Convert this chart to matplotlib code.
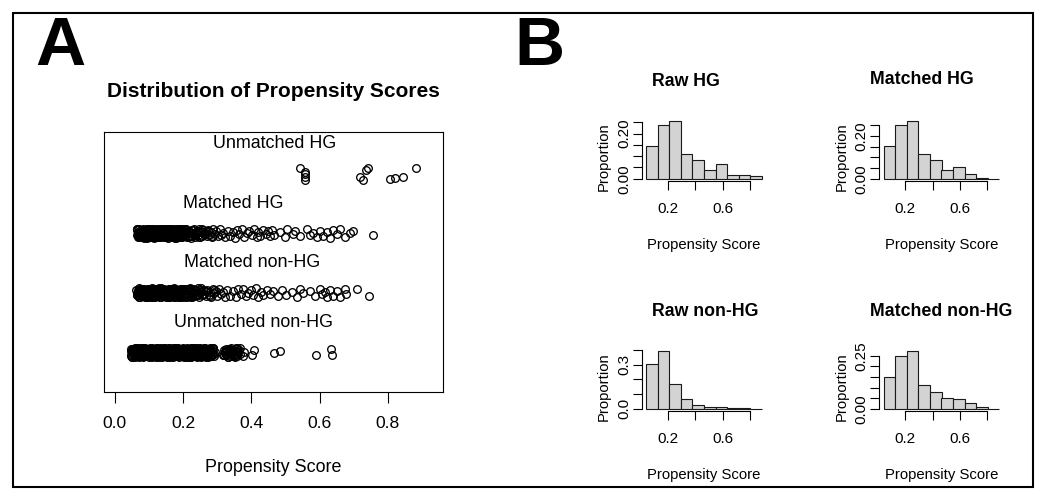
import numpy as np
import matplotlib.pyplot as plt
from matplotlib.patches import Rectangle

plt.rcParams['font.family'] = ['Liberation Sans', 'DejaVu Sans']

# ---- panel A: propensity scores per group (jitter plot) ----
unmatched_hg = [0.543, 0.557, 0.557, 0.557, 0.557, 0.743, 0.736, 0.718, 0.728,
                0.806, 0.821, 0.845, 0.882]
unmatched_hg_jit = [0.097, 0.030, -0.013, -0.059, -0.104, 0.087, 0.059, -0.054,
                    -0.109, -0.092, -0.080, -0.064, 0.087]

matched_hg = [
    0.064, 0.066, 0.069, 0.071, 0.072, 0.075, 0.077, 0.078, 0.081, 0.083,
    0.085, 0.086, 0.089, 0.091, 0.092, 0.094, 0.097, 0.098, 0.101, 0.103,
    0.104, 0.107, 0.109, 0.111, 0.112, 0.115, 0.117, 0.118, 0.121, 0.123,
    0.125, 0.126, 0.129, 0.131, 0.132, 0.134, 0.137, 0.139, 0.141, 0.142,
    0.145, 0.147, 0.148, 0.151, 0.153, 0.155, 0.157, 0.158, 0.161, 0.163,
    0.165, 0.166, 0.169, 0.171, 0.173, 0.175, 0.177, 0.179, 0.181, 0.183,
    0.185, 0.187, 0.189, 0.191, 0.193, 0.195, 0.197, 0.199, 0.202, 0.204,
    0.206, 0.208, 0.211, 0.213, 0.215, 0.218, 0.221, 0.223, 0.226, 0.229,
    0.231, 0.234, 0.237, 0.240, 0.243, 0.246, 0.249, 0.252, 0.256, 0.259,
    0.262, 0.266, 0.270, 0.273, 0.277, 0.281, 0.285, 0.289, 0.293, 0.297,
    0.302, 0.307, 0.312, 0.318, 0.324, 0.331, 0.338,
    0.347, 0.352, 0.357, 0.364, 0.372, 0.379, 0.386, 0.394, 0.401, 0.408,
    0.416, 0.421, 0.426, 0.435, 0.443, 0.450, 0.455, 0.460, 0.465, 0.484,
    0.499, 0.504, 0.523, 0.528, 0.543, 0.562, 0.572, 0.582, 0.592, 0.601,
    0.611, 0.621, 0.631, 0.640, 0.650, 0.660, 0.675, 0.689, 0.699, 0.757,
    0.065, 0.068, 0.070, 0.073, 0.076, 0.079, 0.080, 0.082, 0.084, 0.087,
    0.088, 0.090, 0.093, 0.095, 0.096, 0.099, 0.100, 0.102, 0.105, 0.106,
    0.108, 0.110, 0.113, 0.114, 0.116, 0.119, 0.120, 0.122, 0.124, 0.127,
    0.128, 0.130, 0.133, 0.135, 0.136, 0.138, 0.140, 0.143, 0.144, 0.146,
    0.149, 0.150, 0.152, 0.154, 0.156, 0.159, 0.160, 0.162, 0.164, 0.167,
    0.168, 0.170, 0.172, 0.174, 0.176, 0.178, 0.180, 0.182, 0.184, 0.186,
    0.188, 0.190, 0.194, 0.198, 0.201, 0.205, 0.209, 0.212, 0.216, 0.220,
    0.225, 0.232, 0.239, 0.247, 0.255, 0.264, 0.274, 0.284,
    0.0645, 0.0675, 0.0705, 0.0735, 0.0765, 0.0795, 0.0825, 0.0855, 0.0885,
    0.0915, 0.0945, 0.0975, 0.1005, 0.1035, 0.1065, 0.1095, 0.1125, 0.1155,
    0.1185, 0.1215, 0.1245, 0.1275, 0.1305, 0.1335, 0.1365, 0.1395, 0.1425,
    0.1455, 0.1485, 0.1515, 0.1545, 0.1575, 0.1605, 0.1635, 0.1665, 0.1695,
    0.1725, 0.1755, 0.1785, 0.1815, 0.1845, 0.1875, 0.1915, 0.1955, 0.1995,
    0.2035, 0.2075, 0.2125, 0.2175, 0.2235, 0.2295, 0.2365, 0.2445, 0.2535]

matched_nonhg = [
    0.063, 0.065, 0.068, 0.070, 0.073, 0.074, 0.076, 0.079, 0.080, 0.082,
    0.085, 0.087, 0.088, 0.090, 0.093, 0.095, 0.096, 0.099, 0.100, 0.102,
    0.105, 0.106, 0.108, 0.110, 0.113, 0.114, 0.116, 0.119, 0.120, 0.122,
    0.124, 0.127, 0.128, 0.130, 0.133, 0.135, 0.136, 0.138, 0.140, 0.143,
    0.144, 0.146, 0.149, 0.150, 0.152, 0.154, 0.156, 0.159, 0.160, 0.162,
    0.164, 0.167, 0.168, 0.170, 0.172, 0.174, 0.176, 0.178, 0.180, 0.182,
    0.184, 0.186, 0.188, 0.190, 0.192, 0.194, 0.196, 0.198, 0.200, 0.203,
    0.205, 0.207, 0.210, 0.212, 0.214, 0.217, 0.219, 0.222, 0.224, 0.227,
    0.230, 0.232, 0.235, 0.238, 0.241, 0.244, 0.247, 0.250, 0.254, 0.257,
    0.260, 0.264, 0.268, 0.271, 0.275, 0.279, 0.283, 0.287, 0.291, 0.295,
    0.300, 0.305, 0.310, 0.316, 0.322, 0.329, 0.336,
    0.347, 0.355, 0.362, 0.370, 0.376, 0.384, 0.391, 0.399, 0.406, 0.413,
    0.420, 0.428, 0.435, 0.445, 0.455, 0.464, 0.479, 0.489, 0.503, 0.518,
    0.533, 0.543, 0.552, 0.572, 0.587, 0.601, 0.606, 0.616, 0.621, 0.631,
    0.640, 0.650, 0.660, 0.675, 0.679, 0.709, 0.746,
    0.066, 0.067, 0.070, 0.072, 0.074, 0.076, 0.078, 0.080, 0.082, 0.084,
    0.086, 0.088, 0.090, 0.092, 0.094, 0.096, 0.098, 0.100, 0.102, 0.104,
    0.106, 0.108, 0.110, 0.112, 0.114, 0.116, 0.118, 0.120, 0.122, 0.124,
    0.126, 0.128, 0.130, 0.132, 0.134, 0.136, 0.138, 0.141, 0.143, 0.145,
    0.147, 0.149, 0.151, 0.153, 0.155, 0.158, 0.160, 0.162, 0.165, 0.167,
    0.169, 0.172, 0.174, 0.177, 0.179, 0.182, 0.185, 0.188, 0.191, 0.195,
    0.199, 0.203, 0.207, 0.211, 0.215, 0.220, 0.226, 0.233, 0.241, 0.249,
    0.258, 0.268, 0.279, 0.290,
    0.0635, 0.0665, 0.0695, 0.0725, 0.0755, 0.0785, 0.0815, 0.0845, 0.0875,
    0.0905, 0.0935, 0.0965, 0.0995, 0.1025, 0.1055, 0.1085, 0.1115, 0.1145,
    0.1175, 0.1205, 0.1235, 0.1265, 0.1295, 0.1325, 0.1355, 0.1385, 0.1415,
    0.1445, 0.1475, 0.1505, 0.1535, 0.1565, 0.1595, 0.1625, 0.1655, 0.1685,
    0.1715, 0.1745, 0.1775, 0.1805, 0.1835, 0.1865, 0.1905, 0.1945, 0.1985,
    0.2025, 0.2065, 0.2115, 0.2165, 0.2225, 0.2285, 0.2355, 0.2435, 0.2525]

unmatched_nonhg = [
    0.046, 0.048, 0.049, 0.051, 0.053, 0.054, 0.056, 0.058, 0.059, 0.061,
    0.062, 0.064, 0.066, 0.067, 0.069, 0.071, 0.072, 0.074, 0.075, 0.077,
    0.079, 0.080, 0.082, 0.084, 0.085, 0.087, 0.088, 0.090, 0.092, 0.093,
    0.095, 0.097, 0.098, 0.100, 0.101, 0.103, 0.105, 0.106, 0.108, 0.110,
    0.111, 0.113, 0.114, 0.116, 0.118, 0.119, 0.121, 0.123, 0.124, 0.126,
    0.127, 0.129, 0.131, 0.132, 0.134, 0.136, 0.137, 0.139, 0.140, 0.142,
    0.144, 0.145, 0.147, 0.149, 0.150, 0.152, 0.153, 0.155, 0.157, 0.158,
    0.160, 0.162, 0.163, 0.165, 0.166, 0.168, 0.170, 0.171, 0.173, 0.175,
    0.176, 0.178, 0.179, 0.181, 0.183, 0.184, 0.186, 0.188, 0.189, 0.191,
    0.192, 0.194, 0.196, 0.197, 0.199, 0.201, 0.202, 0.204, 0.205, 0.207,
    0.209, 0.210, 0.212, 0.214, 0.215, 0.217, 0.218, 0.220, 0.222, 0.223,
    0.225, 0.227, 0.228, 0.230, 0.231, 0.233, 0.235, 0.236, 0.238, 0.240,
    0.241, 0.243, 0.244, 0.246, 0.248, 0.249, 0.251, 0.253, 0.254, 0.256,
    0.257, 0.259, 0.261, 0.262, 0.264, 0.266, 0.267, 0.269, 0.270, 0.272,
    0.274, 0.276, 0.278, 0.280, 0.282, 0.284, 0.286, 0.288, 0.290, 0.293,
    0.318, 0.320, 0.322, 0.324, 0.325, 0.327, 0.329, 0.330, 0.332, 0.334,
    0.335, 0.337, 0.338, 0.340, 0.342, 0.343, 0.345, 0.347, 0.348, 0.350,
    0.352, 0.353, 0.355, 0.357, 0.359, 0.361, 0.363, 0.366, 0.368, 0.375,
    0.378, 0.401, 0.408, 0.465, 0.484, 0.591, 0.635, 0.636,
    0.047, 0.050, 0.052, 0.055, 0.057, 0.060, 0.063, 0.065, 0.068, 0.070,
    0.073, 0.076, 0.078, 0.081, 0.083, 0.086, 0.089, 0.091, 0.094, 0.096,
    0.099, 0.102, 0.104, 0.107, 0.109, 0.112, 0.115, 0.117, 0.120, 0.122,
    0.125, 0.128, 0.130, 0.133, 0.135, 0.138, 0.141, 0.143, 0.146, 0.148,
    0.151, 0.154, 0.156, 0.159, 0.161, 0.164, 0.167, 0.169, 0.172, 0.174,
    0.177, 0.180, 0.182, 0.185, 0.187, 0.190, 0.193, 0.195, 0.198, 0.200,
    0.203, 0.206, 0.208, 0.211, 0.213, 0.216, 0.219, 0.221, 0.224, 0.226,
    0.229, 0.232, 0.234, 0.237, 0.239, 0.242, 0.245, 0.247, 0.250, 0.252,
    0.255, 0.258, 0.260, 0.263, 0.265, 0.268, 0.271, 0.273, 0.277, 0.281,
    0.285, 0.289, 0.321, 0.326, 0.331, 0.336, 0.339, 0.344, 0.349, 0.354,
    0.358, 0.362,
    0.0465, 0.0495, 0.0525, 0.0545, 0.0575, 0.0605, 0.0625, 0.0655, 0.0685,
    0.0705, 0.0735, 0.0765, 0.0785, 0.0815, 0.0835, 0.0865, 0.0895, 0.0915,
    0.0945, 0.0965, 0.0995, 0.1025, 0.1045, 0.1075, 0.1095, 0.1125, 0.1155,
    0.1175, 0.1205, 0.1225, 0.1255, 0.1285, 0.1305, 0.1335, 0.1355, 0.1385,
    0.1415, 0.1435, 0.1465, 0.1485, 0.1515, 0.1545, 0.1565, 0.1595, 0.1615,
    0.1645, 0.1675, 0.1695, 0.1725, 0.1745, 0.1775, 0.1805, 0.1825, 0.1855,
    0.1875, 0.1905, 0.1935, 0.1955, 0.1985, 0.2005, 0.2035, 0.2065, 0.2085,
    0.2115, 0.2135, 0.2165, 0.2195, 0.2215, 0.2245, 0.2265, 0.2295, 0.2325,
    0.2345, 0.2375, 0.2395, 0.2425, 0.2455, 0.2475, 0.2505, 0.2525, 0.2555,
    0.2585, 0.2605, 0.2635, 0.2655, 0.2685, 0.2715, 0.2745, 0.2785, 0.2825,
    0.2865, 0.2905]

group_names = ["Unmatched HG", "Matched HG", "Matched non-HG", "Unmatched non-HG"]
group_rows = [4, 3, 2, 1]
label_x = [0.469, 0.346, 0.403, 0.405]

# fixed vertical jitter pattern (display only)
jitter = [0.052, -0.036, 0.018, -0.071, 0.063, -0.008, 0.037, -0.054, 0.072,
          -0.026, 0.006, -0.063, 0.044, -0.045, 0.027, -0.075, 0.058, -0.017,
          0.067, -0.058, 0.001, 0.040, -0.031, 0.075, -0.067, 0.013, -0.040,
          0.049, -0.012, 0.031, -0.049]

# ---- panel B: histogram proportions ----
breaks = [0.043, 0.127, 0.212, 0.296, 0.381, 0.465, 0.549, 0.634, 0.718, 0.803, 0.887]
raw_hg_prop = [0.143, 0.237, 0.254, 0.109, 0.081, 0.040, 0.065, 0.018, 0.018, 0.013]
matched_hg_prop = [0.153, 0.252, 0.269, 0.117, 0.088, 0.039, 0.053, 0.020, 0.005, 0.0]
raw_nonhg_prop = [0.309, 0.393, 0.169, 0.066, 0.025, 0.014, 0.011, 0.007, 0.002, 0.001]
matched_nonhg_prop = [0.151, 0.250, 0.272, 0.112, 0.080, 0.049, 0.044, 0.025, 0.006, 0.0]

W, H = 1046, 500


def px_box(l, t, r, b):
    return [l / W, 1 - b / H, (r - l) / W, (b - t) / H]


fig = plt.figure(figsize=(W / 100, H / 100), dpi=100)
fig.patches.append(Rectangle((13 / W, 13 / H), (W - 26) / W, (H - 26) / H,
                             transform=fig.transFigure, fill=False,
                             lw=1.5, ec='black'))

fig.text(35 / W, 1 - 65 / H, "A", fontsize=50, fontweight='bold', ha='left', va='baseline')
fig.text(514 / W, 1 - 65 / H, "B", fontsize=50, fontweight='bold', ha='left', va='baseline')

# ---- panel A ----
ax = fig.add_axes(px_box(104, 132, 443, 392))
for xs, row in [(matched_hg, 3), (matched_nonhg, 2), (unmatched_nonhg, 1)]:
    ys = [row + jitter[i % len(jitter)] for i in range(len(xs))]
    ax.plot(xs, ys, 'o', mfc='none', mec='black', ms=5.5, mew=0.95, ls='none')
ax.plot(unmatched_hg, [4 + j for j in unmatched_hg_jit], 'o', mfc='none',
        mec='black', ms=5.5, mew=0.95, ls='none')

for name, row, lx in zip(group_names, group_rows, label_x):
    ax.text(lx, row + 0.5, name, ha='center', va='center', fontsize=12.9)

ax.set_xlim(-0.032, 0.962)
ax.set_ylim(0.338, 4.695)
ax.set_yticks([])
ax.set_xticks([0, 0.2, 0.4, 0.6, 0.8], ['0.0', '0.2', '0.4', '0.6', '0.8'])
ax.tick_params(axis='x', direction='out', length=7.9, width=0.8, labelsize=12.6, pad=9.5)
for s in ax.spines.values():
    s.set_linewidth(0.8)
ax.set_xlabel("Propensity Score", fontsize=12.9)
ax.xaxis.set_label_coords(0.5, -0.292)
ax.xaxis.label.set_va('center')
ax.text(0.5, 1.154, "Distribution of Propensity Scores", transform=ax.transAxes,
        ha='center', va='center', fontsize=15, fontweight='bold')

# ---- panel B ----
hist_panels = [
    (raw_hg_prop, "Raw HG", (641.5, 119, 766.5, 181),
     [0, 0.05, 0.10, 0.15, 0.20, 0.25], ['0.00', '', '', '', '0.20', ''], 0.082, 1.60),
    (matched_hg_prop, "Matched HG", (879, 119, 1004, 181),
     [0, 0.05, 0.10, 0.15, 0.20, 0.25], ['0.00', '', '', '', '0.20', ''], -0.074, 1.63),
    (raw_nonhg_prop, "Raw non-HG", (641.5, 349, 766.5, 411),
     [0, 0.1, 0.2, 0.3, 0.4], ['0.0', '', '', '0.3', ''], 0.082, 1.60),
    (matched_nonhg_prop, "Matched non-HG", (879, 349, 1004, 411),
     [0, 0.05, 0.10, 0.15, 0.20, 0.25], ['0.00', '', '', '', '', '0.25'], -0.072, 1.60),
]

edges = np.array(breaks)
for vals, title, bx, yt, yl, tx, ty in hist_panels:
    hx = fig.add_axes(px_box(*bx))
    hx.bar(edges[:-1], vals, width=np.diff(edges), align='edge',
           color='#d3d3d3', ec='#1a1a1a', lw=0.8)
    top = max(vals)
    span = edges[-1] - edges[0]
    hx.set_xlim(edges[0] - 0.04 * span, edges[-1] + 0.04 * span)
    hx.set_ylim(-0.04 * top, 1.04 * top)
    hx.spines['top'].set_visible(False)
    hx.spines['right'].set_visible(False)
    hx.spines['left'].set_bounds(0, yt[-1])
    hx.spines['bottom'].set_bounds(0.2, 0.8)
    hx.spines['left'].set_linewidth(0.8)
    hx.spines['bottom'].set_linewidth(0.8)
    hx.set_xticks([0.2, 0.4, 0.6, 0.8], ['0.2', '', '0.6', ''])
    hx.set_yticks(yt, yl)
    for lab in hx.get_yticklabels():
        lab.set_rotation(90)
        lab.set_va('center')
    hx.tick_params(axis='x', direction='out', length=6.3, width=0.8, labelsize=11, pad=9)
    hx.tick_params(axis='y', direction='out', length=6.3, width=0.8, labelsize=11, pad=1)
    hx.set_xlabel("Propensity Score", fontsize=10.7)
    hx.xaxis.set_label_coords(0.5, -1.032)
    hx.xaxis.label.set_va('center')
    hx.set_ylabel("Proportion", fontsize=10.7)
    hx.yaxis.set_label_coords(-0.305 if bx[0] < 800 else -0.296, 0.40)
    hx.yaxis.label.set_va('center')
    hx.text(tx, ty, title, transform=hx.transAxes, ha='left', va='center',
            fontsize=12.8, fontweight='bold')

fig.savefig("out.png", dpi=100)
